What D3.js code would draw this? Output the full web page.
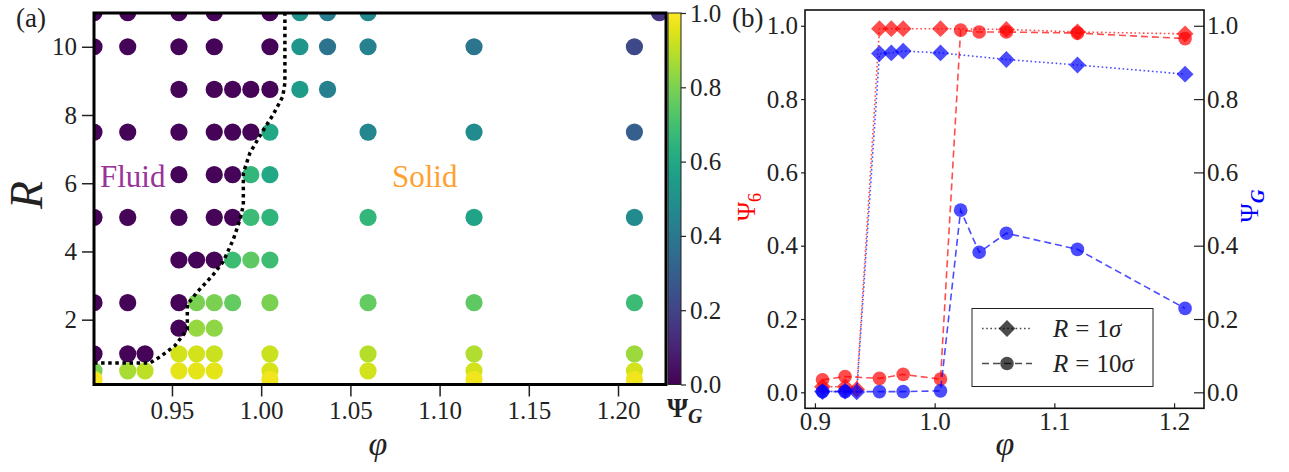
<!DOCTYPE html>
<html><head><meta charset="utf-8">
<script src="https://cdn.jsdelivr.net/npm/d3@7"></script>
<style>
body{margin:0;background:#fff}
svg{display:block}
text{font-family:"Liberation Serif","DejaVu Serif",serif;fill:#222}
</style></head>
<body><svg id="c" width="1289" height="472"></svg>
<script>
// ---------- Panel (a) data: rows of constant R ----------
const rowR = [11, 10, 8.75, 7.5, 6.25, 5, 3.75, 2.5, 1.75, 1.0, 0.5, 0.25];
const rowPhi = [
  [0.9063,0.9252,0.9539,0.9737,1.0049,1.0217,1.0372,1.0599,1.2232],
  [0.9063,0.9252,0.9539,0.9737,1.0049,1.0217,1.0372,1.0599,1.1193,1.2092],
  [0.9539,0.9737,0.9840,0.9942,1.0049,1.0217,1.0372],
  [0.9063,0.9252,0.9539,0.9737,0.9840,0.9942,1.0049,1.0599,1.1193,1.2092],
  [0.9539,0.9737,0.9840,0.9942,1.0049],
  [0.9063,0.9252,0.9539,0.9737,0.9840,0.9942,1.0049,1.0599,1.1193,1.2092],
  [0.9539,0.9638,0.9737,0.9840,0.9942,1.0049],
  [0.9063,0.9252,0.9539,0.9638,0.9737,0.9840,1.0049,1.0599,1.1193,1.2092],
  [0.9539,0.9638,0.9737],
  [0.9063,0.9252,0.9349,0.9539,0.9638,0.9737,1.0049,1.0599,1.1193,1.2092],
  [0.9063,0.9252,0.9349,0.9539,0.9638,0.9737,1.0049,1.0599,1.1193,1.2092],
  [0.9063,1.0049,1.1193,1.2092]
];
const rowPsiG = [
  [0.01,0.01,0.01,0.01,0.01,0.50,0.42,0.47,0.15],
  [0.01,0.01,0.01,0.01,0.01,0.52,0.38,0.44,0.39,0.22],
  [0.01,0.01,0.01,0.01,0.01,0.55,0.43],
  [0.01,0.01,0.01,0.01,0.01,0.01,0.60,0.46,0.48,0.30],
  [0.01,0.01,0.01,0.66,0.60],
  [0.01,0.01,0.01,0.01,0.01,0.68,0.65,0.66,0.58,0.48],
  [0.01,0.01,0.01,0.69,0.75,0.69],
  [0.01,0.01,0.01,0.80,0.80,0.76,0.80,0.76,0.75,0.68],
  [0.01,0.84,0.83],
  [0.01,0.01,0.01,0.93,0.93,0.92,0.92,0.89,0.88,0.85],
  [0.80,0.87,0.90,0.96,0.96,0.96,0.94,0.93,0.93,0.93],
  [0.99,0.98,0.98,0.98]
];
// fluid/solid boundary (phi, R)
const boundaryPhi = [0.9063,0.9377,0.9433,0.9517,0.9586,0.9586,0.9638,0.9730,0.9787,0.9843,0.9881,0.9900,0.9900,0.9937,1.0002,1.0066,1.0121,1.0133,1.0133];
const boundaryR   = [0.73,0.73,0.91,1.24,1.71,2.44,2.79,3.31,3.70,4.34,4.93,5.36,6.30,6.89,7.47,8.00,8.54,8.94,11.2];
const xTicksA = [0.95,1.00,1.05,1.10,1.15,1.20];
const yTicksA = [2,4,6,8,10];
const cbTicks = [0,0.2,0.4,0.6,0.8,1.0];

// ---------- Panel (b) data ----------
const phiR1  = [0.9063,0.9252,0.9349,0.9539,0.9638,0.9737,1.0049,1.0599,1.1193,1.2092];
const psi6R1 = [0.015,0.015,0.008,0.992,0.992,0.992,0.992,0.990,0.983,0.978];
const psiGR1 = [0.002,0.003,0.001,0.924,0.926,0.931,0.926,0.908,0.893,0.868];
const phiR10  = [0.9063,0.9252,0.9539,0.9737,1.0049,1.0217,1.0372,1.0599,1.1193,1.2092];
const psi6R10 = [0.034,0.043,0.038,0.049,0.036,0.988,0.983,0.983,0.980,0.965];
const psiGR10 = [0.002,0.002,0.002,0.002,0.004,0.497,0.382,0.434,0.390,0.229];
const xTicksB = [0.9,1.0,1.1,1.2];
const yTicksB = [0,0.2,0.4,0.6,0.8,1.0];

const svg = d3.select("#c");
const FS = 25;

// ================= Panel (a) =================
const A = {l:94, r:666, t:13, b:384.5};
const xA = d3.scaleLinear().domain([0.9063,1.2269]).range([A.l,A.r]);
const yA = d3.scaleLinear().domain([0.1,10.99]).range([A.b,A.t]);
const color = d3.scaleSequential(d3.interpolateViridis).domain([0,1]);

svg.append("clipPath").attr("id","clipA").append("rect")
  .attr("x",A.l).attr("y",A.t).attr("width",A.r-A.l).attr("height",A.b-A.t);

const pts = [];
rowR.forEach((R,i)=>rowPhi[i].forEach((p,j)=>pts.push({phi:p,R:R,v:rowPsiG[i][j]})));
const gA = svg.append("g").attr("clip-path","url(#clipA)");
gA.selectAll("circle").data(pts).join("circle")
  .attr("cx",d=>xA(d.phi)).attr("cy",d=>yA(d.R)).attr("r",8.6)
  .attr("fill",d=>color(d.v));

const bnd = boundaryPhi.map((p,i)=>[p,boundaryR[i]]);
gA.append("path").datum(bnd)
  .attr("d",d3.line().x(d=>xA(d[0])).y(d=>yA(d[1])))
  .attr("fill","none").attr("stroke","#000").attr("stroke-width",3.5)
  .attr("stroke-dasharray","3.5,3.6");

gA.append("text").attr("x",100).attr("y",187).attr("font-size",31)
  .style("fill","#993399").text("Fluid");
gA.append("text").attr("x",392).attr("y",187).attr("font-size",31)
  .style("fill","#ffa030").text("Solid");

const axA_b = svg.append("g").attr("transform",`translate(0,${A.b})`)
  .call(d3.axisBottom(xA).tickValues(xTicksA).tickFormat(d3.format(".2f")).tickSize(12).tickPadding(5));
const axA_l = svg.append("g").attr("transform",`translate(${A.l},0)`)
  .call(d3.axisLeft(yA).tickValues(yTicksA).tickFormat(d3.format("d")).tickSize(12).tickPadding(5));
[axA_b,axA_l].forEach(g=>{
  g.select(".domain").remove();
  g.selectAll("line").attr("stroke","#222").attr("stroke-width",1.5);
  g.selectAll("text").attr("font-size",FS).style("fill","#222");
});
svg.append("rect").attr("x",A.l).attr("y",A.t).attr("width",A.r-A.l).attr("height",A.b-A.t)
  .attr("fill","none").attr("stroke","#000").attr("stroke-width",3);

// colorbar
const CB = {x:668, w:13};
const grad = svg.append("defs").append("linearGradient").attr("id","vir")
  .attr("x1",0).attr("y1",1).attr("x2",0).attr("y2",0);
d3.range(0,1.0001,0.05).forEach(t=>grad.append("stop").attr("offset",t).attr("stop-color",color(t)));
const yCB = d3.scaleLinear().domain([0,1]).range([A.b,A.t]);
svg.append("rect").attr("x",CB.x).attr("y",A.t).attr("width",CB.w).attr("height",A.b-A.t)
  .attr("fill","url(#vir)").attr("stroke","#222").attr("stroke-width",1);
const axCB = svg.append("g").attr("transform",`translate(${CB.x+CB.w},0)`)
  .call(d3.axisRight(yCB).tickValues(cbTicks).tickFormat(d3.format(".1f")).tickSize(5).tickPadding(4));
axCB.select(".domain").remove();
axCB.selectAll("line").attr("stroke","#222").attr("stroke-width",1.2);
axCB.selectAll("text").attr("font-size",FS).style("fill","#222");
const psiGcb = svg.append("text").attr("x",667).attr("y",417).attr("font-size",27).attr("font-weight","bold");
psiGcb.append("tspan").text("Ψ");
psiGcb.append("tspan").attr("font-style","italic").attr("font-size",20).attr("dy",6).text("G");

// labels panel a
svg.append("text").attr("x",16).attr("y",27).attr("font-size",27).text("(a)");
svg.append("text").attr("transform","translate(42,195) rotate(-90)").attr("text-anchor","middle")
  .attr("font-size",46).attr("font-style","italic").text("R");
svg.append("text").attr("x",378).attr("y",455).attr("text-anchor","middle")
  .attr("font-size",34).attr("font-style","italic").text("φ");

// ================= Panel (b) =================
const B = {l:805, r:1204, t:10, b:408.3};
const xB = d3.scaleLinear().domain([0.8917,1.225]).range([B.l,B.r]);
const yB = d3.scaleLinear().domain([-0.0436,1.043]).range([B.b,B.t]);

const axB_b = svg.append("g").attr("transform",`translate(0,${B.b})`)
  .call(d3.axisBottom(xB).tickValues(xTicksB).tickFormat(d3.format(".1f")).tickSize(-5).tickPadding(4));
const axB_l = svg.append("g").attr("transform",`translate(${B.l},0)`)
  .call(d3.axisLeft(yB).tickValues(yTicksB).tickFormat(d3.format(".1f")).tickSize(4).tickPadding(3));
const axB_r = svg.append("g").attr("transform",`translate(${B.r},0)`)
  .call(d3.axisRight(yB).tickValues(yTicksB).tickFormat(d3.format(".1f")).tickSize(-10).tickPadding(3));
[axB_b,axB_l,axB_r].forEach(g=>{
  g.select(".domain").remove();
  g.selectAll("line").attr("stroke","#222").attr("stroke-width",1.2);
  g.selectAll("text").attr("font-size",FS).style("fill","#222");
});

const lineB = d3.line().x(d=>xB(d[0])).y(d=>yB(d[1]));
const diamond = (w)=>`M0,${-w}L${w},0L0,${w}L${-w},0Z`;
function series(xs, ys, col, kind){
  const data = xs.map((x,i)=>[x,ys[i]]);
  svg.append("path").datum(data).attr("d",lineB).attr("fill","none")
    .attr("stroke",col).attr("stroke-opacity",0.7).attr("stroke-width",1.6)
    .attr("stroke-dasharray", kind==="d" ? "1.6,2.6" : "7,4");
  const g = svg.append("g");
  if(kind==="d"){
    g.selectAll("path").data(data).join("path")
      .attr("transform",d=>`translate(${xB(d[0])},${yB(d[1])})`)
      .attr("d",diamond(8.4)).attr("fill",col).attr("fill-opacity",0.7);
  } else {
    g.selectAll("circle").data(data).join("circle")
      .attr("cx",d=>xB(d[0])).attr("cy",d=>yB(d[1])).attr("r",6.8)
      .attr("fill",col).attr("fill-opacity",0.7);
  }
}
series(phiR1, psi6R1, "#ff0000", "d");
series(phiR10, psi6R10, "#ff0000", "c");
series(phiR1, psiGR1, "#0000ff", "d");
series(phiR10, psiGR10, "#0000ff", "c");

svg.append("rect").attr("x",B.l).attr("y",B.t).attr("width",B.r-B.l).attr("height",B.b-B.t)
  .attr("fill","none").attr("stroke","#111").attr("stroke-width",1.6);

// legend
const L = svg.append("g");
L.append("rect").attr("x",972).attr("y",308.5).attr("width",181).attr("height",78)
  .attr("fill","#fff").attr("stroke","#222").attr("stroke-width",1);
const legItems = [{k:"d", n:"1", y:328.5},{k:"c", n:"10", y:363.5}];
legItems.forEach(it=>{
  L.append("line").attr("x1",982).attr("x2",1032).attr("y1",it.y).attr("y2",it.y)
    .attr("stroke","#000").attr("stroke-opacity",0.7).attr("stroke-width",1.6)
    .attr("stroke-dasharray", it.k==="d" ? "1.6,2.6" : "7,4");
  if(it.k==="d") L.append("path").attr("transform",`translate(1007,${it.y})`).attr("d",diamond(8.4)).attr("fill","#000").attr("fill-opacity",0.7);
  else L.append("circle").attr("cx",1007).attr("cy",it.y).attr("r",6.8).attr("fill","#000").attr("fill-opacity",0.7);
  const t = L.append("text").attr("x",1053).attr("y",it.y+8).attr("font-size",25);
  t.append("tspan").attr("font-style","italic").text("R");
  t.append("tspan").attr("dx",7).text("=");
  t.append("tspan").attr("dx",7).text(it.n);
  t.append("tspan").attr("font-style","italic").text("σ");
});

svg.append("text").attr("x",732).attr("y",27).attr("font-size",27).text("(b)");
svg.append("text").attr("x",1005).attr("y",455).attr("text-anchor","middle")
  .attr("font-size",34).attr("font-style","italic").text("φ");
const p6 = svg.append("text").attr("transform","translate(755,207) rotate(-90)").attr("text-anchor","middle")
  .attr("font-size",26).style("fill","#ff0000");
p6.append("tspan").text("Ψ");
p6.append("tspan").attr("font-size",18).attr("dy",6).text("6");
const pG = svg.append("text").attr("transform","translate(1258,206) rotate(-90)").attr("text-anchor","middle")
  .attr("font-size",26).style("fill","#0000ff");
pG.append("tspan").text("Ψ");
pG.append("tspan").attr("font-size",19).attr("font-style","italic").attr("font-weight","bold").attr("dy",6).text("G");
</script></body></html>
